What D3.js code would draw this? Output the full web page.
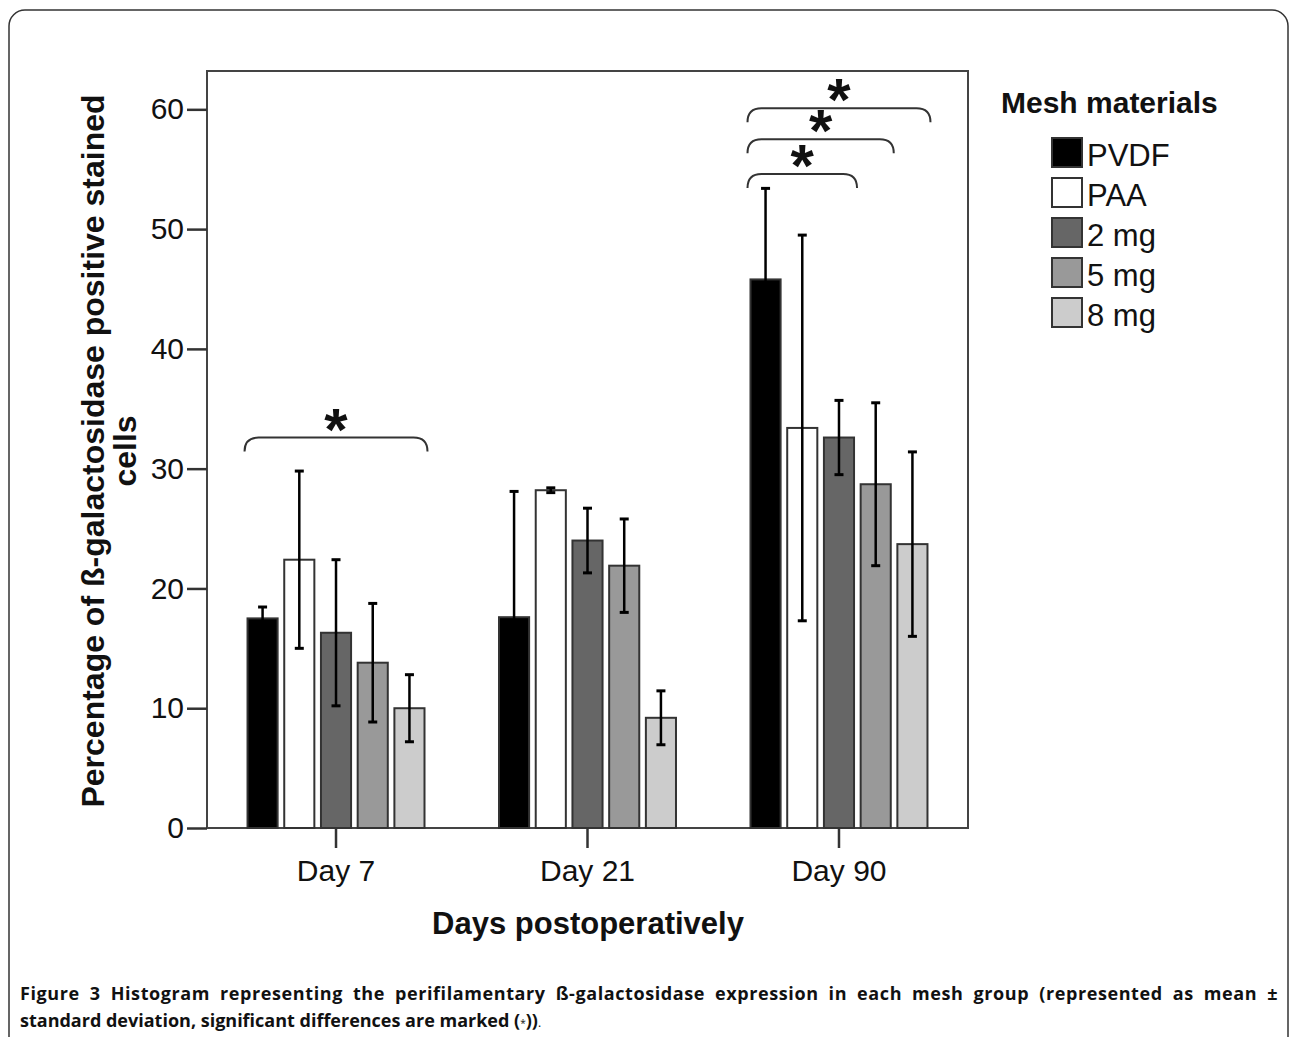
<!DOCTYPE html>
<html>
<head>
<meta charset="utf-8">
<script src="https://cdn.jsdelivr.net/npm/d3@7"></script>
<style>
  body { margin: 0; background: #fff; }
  text { font-family: "Liberation Sans", Arial, sans-serif; fill: #111; }
  .caption text { font-family: "Open Sans", "Noto Sans", sans-serif; }
</style>
</head>
<body>
<div id="chart"></div>
<script>
// chart values
var days = ["Day 7", "Day 21", "Day 90"];
var materials = ["PVDF", "PAA", "2 mg", "5 mg", "8 mg"];
var meanDay7  = [17.5, 22.4, 16.3, 13.8, 10.0];
var sdDay7    = [0.95, 7.4, 6.1, 4.95, 2.8];
var meanDay21 = [17.6, 28.2, 24.0, 21.9, 9.2];
var sdDay21   = [10.5, 0.2, 2.7, 3.9, 2.25];
var meanDay90 = [45.8, 33.4, 32.6, 28.7, 23.7];
var sdDay90   = [7.6, 16.1, 3.1, 6.8, 7.7];
var yTicks = [0, 10, 20, 30, 40, 50, 60];

// significance brackets (PVDF vs ...)
var sigDay   = ["Day 7", "Day 90", "Day 90", "Day 90"];
var sigTo    = ["8 mg", "2 mg", "5 mg", "8 mg"];
var sigLevel = [32.6, 54.6, 57.5, 60.1];

var fills = ["#000000", "#ffffff", "#666666", "#999999", "#cccccc"];

var means = [meanDay7, meanDay21, meanDay90],
    sds = [sdDay7, sdDay21, sdDay90];

var rows = [];
days.forEach(function(day, i) {
  materials.forEach(function(m, j) {
    rows.push({day: day, mat: m, mean: means[i][j], sd: sds[i][j]});
  });
});

var width = 1290, height = 1037;
var plotL = 207, plotR = 968, plotT = 71, plotB = 828;

var svg = d3.select("#chart").append("svg")
  .attr("width", width)
  .attr("height", height);

// outer figure frame
svg.append("rect")
  .attr("x", 9).attr("y", 10)
  .attr("width", 1279).attr("height", 1100)
  .attr("rx", 16)
  .attr("fill", "none")
  .attr("stroke", "#333")
  .attr("stroke-width", 1.5);

var x = d3.scaleBand().domain(days).range([plotL, plotR]).paddingInner(0).paddingOuter(0.013);
var span = x.bandwidth() * 0.73;
var xs = d3.scaleBand().domain(materials).range([0, span]).paddingInner(0.18).paddingOuter(0.09);
var color = d3.scaleOrdinal().domain(materials).range(fills);
var y = d3.scaleLinear().domain([0, 63.2]).range([plotB, plotT]);

function barX(day, mat) {
  return x(day) + x.bandwidth() / 2 - span / 2 + xs(mat);
}

// plot box
svg.append("rect")
  .attr("x", plotL).attr("y", plotT)
  .attr("width", plotR - plotL).attr("height", plotB - plotT)
  .attr("fill", "none")
  .attr("stroke", "#444")
  .attr("stroke-width", 2);

// bars
svg.append("g").selectAll("rect")
  .data(rows)
  .enter().append("rect")
  .attr("x", function(d) { return barX(d.day, d.mat); })
  .attr("y", function(d) { return y(d.mean); })
  .attr("width", xs.bandwidth())
  .attr("height", function(d) { return y(0) - y(d.mean); })
  .attr("fill", function(d) { return color(d.mat); })
  .attr("stroke", "#333")
  .attr("stroke-width", 2);

// error bars
var err = svg.append("g").selectAll("g")
  .data(rows)
  .enter().append("g")
  .attr("transform", function(d) { return "translate(" + (barX(d.day, d.mat) + xs.bandwidth() / 2) + ",0)"; });

err.append("line")
  .attr("y1", function(d) { return y(d.mean - d.sd); })
  .attr("y2", function(d) { return y(d.mean + d.sd); })
  .attr("stroke", "#000")
  .attr("stroke-width", 2.5);

err.selectAll("line.cap")
  .data(function(d) { return [d.mean - d.sd, d.mean + d.sd]; })
  .enter().append("line")
  .attr("class", "cap")
  .attr("x1", -4.5).attr("x2", 4.5)
  .attr("y1", function(v) { return y(v); })
  .attr("y2", function(v) { return y(v); })
  .attr("stroke", "#000")
  .attr("stroke-width", 3);

// axes
var yAxis = svg.append("g")
  .attr("transform", "translate(" + plotL + ",0)")
  .call(d3.axisLeft(y).tickValues(yTicks).tickSize(20).tickPadding(3));
yAxis.select(".domain").remove();
yAxis.selectAll(".tick line").attr("stroke", "#333").attr("stroke-width", 2.5);
yAxis.selectAll(".tick text")
  .attr("font-size", 30)
  .attr("font-family", "Liberation Sans, Arial, sans-serif")
  .attr("fill", "#111");

var xAxis = svg.append("g")
  .attr("transform", "translate(0," + plotB + ")")
  .call(d3.axisBottom(x).tickSize(20).tickPadding(12));
xAxis.select(".domain").remove();
xAxis.selectAll(".tick line").attr("stroke", "#333").attr("stroke-width", 2.5);
xAxis.selectAll(".tick text")
  .attr("font-size", 30)
  .attr("font-family", "Liberation Sans, Arial, sans-serif")
  .attr("fill", "#222");

// axis titles
svg.append("text")
  .attr("x", 588).attr("y", 934)
  .attr("text-anchor", "middle")
  .attr("font-size", 31)
  .attr("font-weight", "bold")
  .text("Days postoperatively");

svg.append("text")
  .attr("transform", "translate(104,451) rotate(-90)")
  .attr("text-anchor", "middle")
  .attr("font-size", 32)
  .attr("font-weight", "bold")
  .text("Percentage of ß-galactosidase positive stained");

svg.append("text")
  .attr("transform", "translate(136,451) rotate(-90)")
  .attr("text-anchor", "middle")
  .attr("font-size", 32)
  .attr("font-weight", "bold")
  .text("cells");

// significance brackets
var sig = sigDay.map(function(d, i) { return {day: d, to: sigTo[i], level: sigLevel[i]}; });
var br = svg.append("g").selectAll("g").data(sig).enter().append("g");

br.append("path")
  .attr("d", function(d) {
    var x0 = barX(d.day, "PVDF") - 3,
        x1 = barX(d.day, d.to) + xs.bandwidth() + 3,
        yy = y(d.level), dr = 14;
    return "M" + x0 + "," + (yy + dr) + "Q" + x0 + "," + yy + " " + (x0 + dr) + "," + yy +
           "L" + (x1 - dr) + "," + yy + "Q" + x1 + "," + yy + " " + x1 + "," + (yy + dr);
  })
  .attr("fill", "none")
  .attr("stroke", "#333")
  .attr("stroke-width", 2);

br.append("text")
  .attr("x", function(d) { return (barX(d.day, "PVDF") + barX(d.day, d.to) + xs.bandwidth()) / 2; })
  .attr("y", function(d) { return y(d.level) + 12; })
  .attr("text-anchor", "middle")
  .attr("font-size", 60)
  .attr("font-weight", "bold")
  .text("*");

// legend
var legend = svg.append("g");
legend.append("text")
  .attr("x", 1001).attr("y", 113)
  .attr("font-size", 30)
  .attr("font-weight", "bold")
  .text("Mesh materials");

var li = legend.selectAll("g.item")
  .data(materials)
  .enter().append("g")
  .attr("class", "item")
  .attr("transform", function(d, i) { return "translate(1052," + (138 + i * 40) + ")"; });

li.append("rect")
  .attr("width", 30).attr("height", 29)
  .attr("fill", function(d) { return color(d); })
  .attr("stroke", "#333")
  .attr("stroke-width", 2);

li.append("text")
  .attr("x", 35).attr("y", 28)
  .attr("font-size", 31)
  .attr("fill", "#222")
  .text(function(d) { return d; });

// caption
var cap = svg.append("g").attr("class", "caption");
var line1 = cap.append("text")
  .attr("x", 20).attr("y", 1000)
  .attr("font-size", 18)
  .attr("font-weight", "bold")
  .attr("fill", "#222");
line1.append("tspan").text("Figure 3 ");
line1.append("tspan").text("Histogram representing the perifilamentary ß-galactosidase expression in each mesh group (represented as mean ±");

// justify first line: share the extra room between letters and word gaps
var natural = line1.node().getComputedTextLength();
var txt = line1.text();
var gaps = txt.split(" ").length - 1;
var extra = Math.max(0, 1258 - natural);
line1.attr("letter-spacing", (extra * 0.5) / txt.length)
     .attr("word-spacing", (extra * 0.5) / gaps);

var line2 = cap.append("text")
  .attr("x", 20).attr("y", 1027)
  .attr("font-size", 18)
  .attr("font-weight", "bold")
  .attr("fill", "#222");
line2.append("tspan").text("standard deviation, significant differences are marked (");
line2.append("tspan").attr("font-size", 10).attr("font-weight", "normal").text("*");
line2.append("tspan").text("))");
line2.append("tspan").attr("font-weight", "normal").attr("font-size", 12).text(".");
</script>
</body>
</html>
